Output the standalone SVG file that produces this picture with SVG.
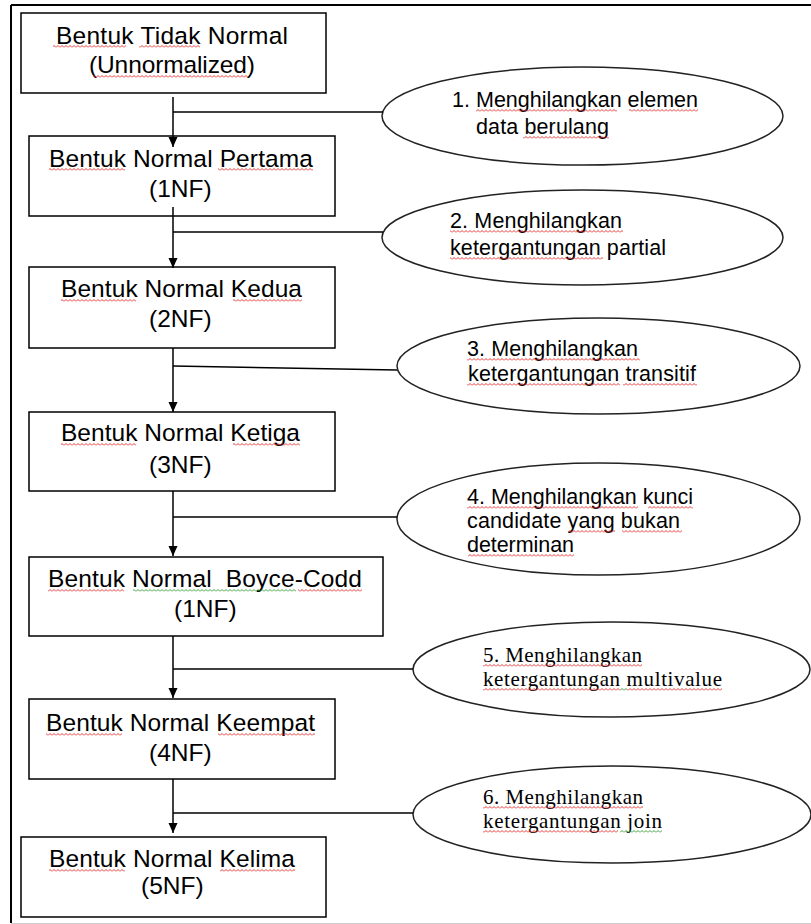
<svg xmlns="http://www.w3.org/2000/svg" width="811" height="924" viewBox="0 0 811 924">
<style>
.box{fill:#fff;stroke:#000;stroke-width:1.5}
.ell{fill:#fff;stroke:#222;stroke-width:1.5}
.bt{font-family:"Liberation Sans",Arial,sans-serif;font-size:24.5px;fill:#000}
.et{font-family:"Liberation Sans",Arial,sans-serif;font-size:21.5px;fill:#000}
.st{font-family:"Liberation Serif","Times New Roman",serif;font-size:21px;fill:#000}
.conn line{stroke:#000;stroke-width:1.5;fill:none}
.zz{fill:none;stroke-width:0.9}
</style>
<defs>
<marker id="ah" markerUnits="userSpaceOnUse" markerWidth="10" markerHeight="10" refX="10" refY="4.5" orient="auto"><path d="M0,0 L10,4.5 L0,9 z" fill="#000"/></marker>
<pattern id="r0" patternUnits="userSpaceOnUse" x="0" y="0" width="4" height="3"><path class="zz" stroke="#e32424" d="M0,2.5 L2,0.5 L4,2.5"/></pattern>
<pattern id="r1" patternUnits="userSpaceOnUse" x="0" y="1" width="4" height="3"><path class="zz" stroke="#e32424" d="M0,2.5 L2,0.5 L4,2.5"/></pattern>
<pattern id="r2" patternUnits="userSpaceOnUse" x="0" y="2" width="4" height="3"><path class="zz" stroke="#e32424" d="M0,2.5 L2,0.5 L4,2.5"/></pattern>
<pattern id="g1" patternUnits="userSpaceOnUse" x="0" y="1" width="4" height="3"><path class="zz" stroke="#2a9a2a" d="M0,2.5 L2,0.5 L4,2.5"/></pattern>
<pattern id="g2" patternUnits="userSpaceOnUse" x="0" y="2" width="4" height="3"><path class="zz" stroke="#2a9a2a" d="M0,2.5 L2,0.5 L4,2.5"/></pattern>
</defs>
<rect x="0" y="0" width="811" height="924" fill="#fff"/>
<g id="frame">
<line x1="11" y1="5" x2="811" y2="5" stroke="#000" stroke-width="2"/>
<line x1="11" y1="5" x2="11" y2="923" stroke="#000" stroke-width="2"/>
<line x1="11" y1="923.5" x2="811" y2="923.5" stroke="#ccc" stroke-width="1"/>
</g>

<g id="n0">
<rect class="box" x="21" y="13" width="305" height="80"/>
<text class="bt" x="56" y="44" textLength="232">Bentuk Tidak Normal</text>
<text class="bt" x="89" y="73" textLength="166">(Unnormalized)</text>
<rect x="53" y="45" width="73" height="3" fill="url(#r0)"/>
<rect x="139" y="45" width="61" height="3" fill="url(#r0)"/>
<rect x="93" y="75" width="155" height="3" fill="url(#r0)"/>
</g>

<g id="n1">
<rect class="box" x="29" y="136" width="306" height="80"/>
<text class="bt" x="49" y="167" textLength="264">Bentuk Normal Pertama</text>
<text class="bt" x="149" y="197">(1NF)</text>
<rect x="49" y="168" width="76" height="3" fill="url(#r0)"/>
<rect x="218" y="168" width="95" height="3" fill="url(#r0)"/>
</g>

<g id="n2">
<rect class="box" x="29" y="267" width="306" height="81"/>
<text class="bt" x="61" y="297" textLength="241">Bentuk Normal Kedua</text>
<text class="bt" x="149" y="327">(2NF)</text>
<rect x="61" y="299" width="75" height="3" fill="url(#r2)"/>
<rect x="233" y="299" width="69" height="3" fill="url(#r2)"/>
</g>

<g id="n3">
<rect class="box" x="29" y="412" width="306" height="79"/>
<text class="bt" x="61" y="441" textLength="239">Bentuk Normal Ketiga</text>
<text class="bt" x="149" y="473">(3NF)</text>
<rect x="61" y="443" width="75" height="3" fill="url(#r2)"/>
<rect x="233" y="443" width="67" height="3" fill="url(#r2)"/>
</g>

<g id="n4">
<rect class="box" x="29" y="557" width="354" height="79"/>
<text class="bt" x="48" y="587" textLength="314" xml:space="preserve">Bentuk Normal  Boyce-Codd</text>
<text class="bt" x="174" y="617">(1NF)</text>
<rect x="48" y="589" width="76" height="3" fill="url(#r1)"/>
<rect x="133" y="589" width="163" height="3" fill="url(#g1)"/>
<rect x="298" y="589" width="64" height="3" fill="url(#r1)"/>
</g>

<g id="n5">
<rect class="box" x="29" y="699" width="306" height="80"/>
<text class="bt" x="46" y="731" textLength="269">Bentuk Normal Keempat</text>
<text class="bt" x="149" y="761">(4NF)</text>
<rect x="46" y="733" width="76" height="3" fill="url(#r1)"/>
<rect x="218" y="733" width="97" height="3" fill="url(#r1)"/>
</g>

<g id="n6">
<rect class="box" x="21" y="837" width="305" height="80"/>
<text class="bt" x="49" y="867" textLength="246">Bentuk Normal Kelima</text>
<text class="bt" x="141" y="894">(5NF)</text>
<rect x="49" y="869" width="76" height="3" fill="url(#r2)"/>
<rect x="220" y="869" width="75" height="3" fill="url(#r2)"/>
</g>

<g id="e1">
<ellipse class="ell" cx="582.5" cy="116" rx="200.5" ry="49"/>
<text class="et" x="452" y="107">1.</text>
<text class="et" x="476" y="107" textLength="222">Menghilangkan elemen</text>
<text class="et" x="476" y="134" textLength="133">data berulang</text>
<rect x="476" y="109" width="141" height="3" fill="url(#r1)"/>
<rect x="629" y="109" width="69" height="3" fill="url(#r1)"/>
<rect x="523" y="136" width="86" height="3" fill="url(#r1)"/>
</g>

<g id="e2">
<ellipse class="ell" cx="582.5" cy="237.5" rx="200.5" ry="47.5"/>
<text class="et" x="450" y="228" textLength="172">2. Menghilangkan</text>
<text class="et" x="450" y="255" textLength="216">ketergantungan partial</text>
<rect x="450" y="230" width="173" height="3" fill="url(#r2)"/>
<rect x="450" y="257" width="153" height="3" fill="url(#r2)"/>
</g>

<g id="e3">
<ellipse class="ell" cx="598.5" cy="366" rx="201.5" ry="48"/>
<text class="et" x="467" y="356" textLength="171">3. Menghilangkan</text>
<text class="et" x="468" y="381" textLength="228">ketergantungan transitif</text>
<rect x="467" y="358" width="173" height="3" fill="url(#r1)"/>
<rect x="467" y="383" width="153" height="3" fill="url(#r2)"/>
<rect x="623" y="383" width="74" height="3" fill="url(#r2)"/>
</g>

<g id="e4">
<ellipse class="ell" cx="598.5" cy="519" rx="201.5" ry="56"/>
<text class="et" x="467" y="504" textLength="226">4. Menghilangkan kunci</text>
<text class="et" x="467" y="528" textLength="213">candidate yang bukan</text>
<text class="et" x="467" y="552" textLength="107">determinan</text>
<rect x="467" y="506" width="171" height="3" fill="url(#r2)"/>
<rect x="648" y="506" width="45" height="3" fill="url(#r2)"/>
<rect x="568" y="530" width="47" height="3" fill="url(#r2)"/>
<rect x="622" y="530" width="60" height="3" fill="url(#r2)"/>
<rect x="468" y="554" width="106" height="3" fill="url(#r2)"/>
</g>

<g id="e5">
<ellipse class="ell" cx="611.5" cy="669.5" rx="198.5" ry="47.5"/>
<text class="st" x="483" y="662" textLength="159">5. Menghilangkan</text>
<text class="st" x="483" y="686" textLength="239">ketergantungan multivalue</text>
<rect x="483" y="664" width="159" height="3" fill="url(#r1)"/>
<rect x="483" y="688" width="137" height="3" fill="url(#r1)"/>
<rect x="620" y="688" width="7" height="3" fill="url(#g1)"/>
<rect x="627" y="688" width="95" height="3" fill="url(#r1)"/>
</g>

<g id="e6">
<ellipse class="ell" cx="612" cy="814.5" rx="199" ry="48.5"/>
<text class="st" x="483" y="804" textLength="160">6. Menghilangkan</text>
<text class="st" x="483" y="828" textLength="179">ketergantungan join</text>
<rect x="483" y="806" width="160" height="3" fill="url(#r2)"/>
<rect x="483" y="830" width="135" height="3" fill="url(#r2)"/>
<rect x="620" y="830" width="42" height="3" fill="url(#g2)"/>
</g>

<g id="connectors" class="conn">
<line x1="173" y1="97" x2="173" y2="147" marker-end="url(#ah)"/>
<line x1="173" y1="207" x2="173" y2="268" marker-end="url(#ah)"/>
<line x1="173" y1="348" x2="173" y2="412" marker-end="url(#ah)"/>
<line x1="173" y1="491" x2="173" y2="556" marker-end="url(#ah)"/>
<line x1="173" y1="636" x2="173" y2="698" marker-end="url(#ah)"/>
<line x1="173" y1="779" x2="173" y2="833" marker-end="url(#ah)"/>
<line x1="173" y1="112" x2="383" y2="112"/>
<line x1="173" y1="232" x2="383" y2="232"/>
<line x1="173" y1="366" x2="397" y2="370"/>
<line x1="173" y1="517" x2="397" y2="517"/>
<line x1="173" y1="669" x2="413" y2="669"/>
<line x1="173" y1="813" x2="413" y2="813"/>
</g>
</svg>
